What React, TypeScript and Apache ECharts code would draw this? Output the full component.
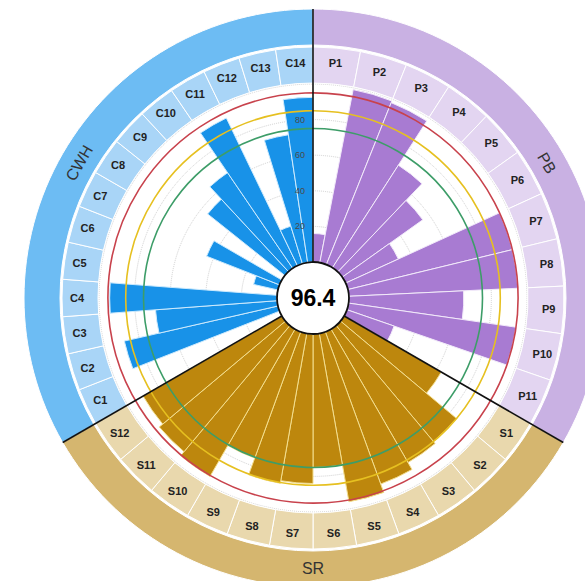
import React, { useEffect, useRef } from 'react';
import * as echarts from 'echarts';

const pbCategories = ['P1', 'P2', 'P3', 'P4', 'P5', 'P6', 'P7', 'P8', 'P9', 'P10', 'P11'];
const pbValues = [16, 99, 98, 68.5, 55.5, 32.5, 95, 95, 64.5, 95, 28];
const srCategories = ['S1', 'S2', 'S3', 'S4', 'S5', 'S6', 'S7', 'S8', 'S9', 'S10', 'S11', 'S12'];
const srValues = [63, 85, 86.5, 91, 96, 75, 84, 85.5, 75.5, 95.5, 92.5, 90];
const cwhCategories = ['C1', 'C2', 'C3', 'C4', 'C5', 'C6', 'C7', 'C8', 'C9', 'C10', 'C11', 'C12', 'C13', 'C14'];
const cwhValues = [0, 88.5, 68.5, 94, 0, 14, 44, 0, 55.5, 65, 92, 22, 72.5, 92.5];
const groupNames = ['PB', 'SR', 'CWH'];
const thresholds = [95, 85, 75];
const radiusTickLabels = [20, 40, 60, 80];
const centerValue = '96.4';

const CX = 313;
const CY = 298;
const R0 = 36;
const R1 = 214;
const RING_IN = 215;
const RING_OUT = 251;
const OUTER_IN = 253;
const OUTER_OUT = 289;
const FONT = 'Arial, "Liberation Sans", Helvetica, sans-serif';

const groups = [
  { name: groupNames[0], cats: pbCategories, values: pbValues, start: 90, end: -30,
    bar: '#a87bd2', sep: '#f2eafa', cell: '#e3d5f1', outer: '#c9b1e3' },
  { name: groupNames[1], cats: srCategories, values: srValues, start: -30, end: -150,
    bar: '#bd870d', sep: '#f3de8e', cell: '#e9d8ad', outer: '#d5b66f' },
  { name: groupNames[2], cats: cwhCategories, values: cwhValues, start: 210, end: 90,
    bar: '#1892e8', sep: '#cdeafd', cell: '#a9d5f7', outer: '#6dbcf3' },
];
const thresholdColors = ['#c8424c', '#e6c020', '#3d9d68'];

export default function App() {
  const ref = useRef<HTMLDivElement>(null);
  useEffect(() => {
    if (!ref.current) return;
    const chart = echarts.init(ref.current, undefined, { renderer: 'svg' });

    const polar: any[] = groups.map(() => ({ center: [CX, CY], radius: [R0, R1] }));
    polar.push({ center: [CX, CY], radius: [R0, R1] });

    const angleAxis: any[] = groups.map((g, i) => ({
      polarIndex: i,
      type: 'category',
      data: g.cats,
      startAngle: g.start,
      endAngle: g.end,
      clockwise: true,
      boundaryGap: true,
      axisLine: { show: false },
      axisTick: { show: false },
      axisLabel: { show: false },
      splitLine: { show: false },
    }));
    angleAxis.push({
      polarIndex: 3,
      type: 'category',
      data: pbCategories,
      startAngle: 90,
      clockwise: true,
      axisLine: { show: false },
      axisTick: { show: false },
      axisLabel: { show: false },
      splitLine: { show: false },
    });

    const radiusAxis: any[] = groups.map((g, i) => ({
      polarIndex: i,
      type: 'value',
      min: 0,
      max: 100,
      interval: 20,
      axisLine: { show: false },
      axisTick: { show: false },
      axisLabel: { show: false },
      splitLine: { show: true, lineStyle: { type: 'dotted', color: '#cfcfcf', width: 1 } },
    }));
    radiusAxis.push({
      polarIndex: 3,
      type: 'value',
      min: 0,
      max: 100,
      interval: 20,
      z: 50,
      axisLine: { show: false },
      axisTick: { show: false },
      splitLine: { show: false },
      axisLabel: {
        show: true,
        fontSize: 9,
        color: '#4a4a4a',
        fontFamily: FONT,
        formatter: (v: number) => (radiusTickLabels.indexOf(v) >= 0 ? String(v) : ''),
      },
    });

    const barSeries = groups.map((g, i) => ({
      type: 'bar',
      coordinateSystem: 'polar',
      polarIndex: i,
      data: g.values,
      barCategoryGap: '0%',
      silent: true,
      itemStyle: { color: g.bar, borderColor: g.sep, borderWidth: 1 },
      z: 2,
    }));

    const cellData: any[] = [];
    groups.forEach((g) => {
      g.cats.forEach((c) => {
        cellData.push({ name: c, value: 120 / g.cats.length, itemStyle: { color: g.cell } });
      });
    });

    const outerData = groups.map((g) => ({ name: g.name, value: 120, itemStyle: { color: g.outer } }));
    const outerLabelData = groups.map((g) => ({ name: g.name, value: 120 }));

    const lines = groups.map((g) => {
      const a = (g.start * Math.PI) / 180;
      return {
        type: 'line',
        z: 100,
        silent: true,
        shape: {
          x1: CX + R0 * Math.cos(a),
          y1: CY - R0 * Math.sin(a),
          x2: CX + OUTER_OUT * Math.cos(a),
          y2: CY - OUTER_OUT * Math.sin(a),
        },
        style: { stroke: '#111', lineWidth: 1.6 },
      };
    });

    chart.setOption({
      animation: false,
      polar,
      angleAxis,
      radiusAxis,
      series: [
        ...barSeries,
        {
          type: 'custom',
          coordinateSystem: 'polar',
          polarIndex: 0,
          silent: true,
          clip: false,
          z: 6,
          data: thresholds.map((t, k) => [t, 0, k]),
          renderItem: (params: any, api: any) => {
            const cs = params.coordSys;
            const p = api.coord([api.value(0), api.value(1)]);
            const r = Math.hypot(p[0] - cs.cx, p[1] - cs.cy);
            return {
              type: 'circle',
              shape: { cx: cs.cx, cy: cs.cy, r },
              style: { fill: 'none', stroke: thresholdColors[api.value(2)], lineWidth: 1.6 },
            };
          },
        },
        {
          type: 'pie',
          center: [CX, CY],
          radius: [RING_IN, RING_OUT],
          startAngle: 90,
          clockwise: true,
          silent: true,
          avoidLabelOverlap: false,
          emphasis: { disabled: true },
          itemStyle: { borderColor: '#ffffff', borderWidth: 1 },
          label: {
            show: true,
            position: 'inside',
            formatter: '{b}',
            fontSize: 11,
            fontWeight: 'bold',
            color: '#222',
            fontFamily: FONT,
          },
          labelLine: { show: false },
          data: cellData,
        },
        {
          type: 'pie',
          center: [CX, CY],
          radius: [OUTER_IN, OUTER_OUT],
          startAngle: 90,
          clockwise: true,
          silent: true,
          emphasis: { disabled: true },
          itemStyle: { borderColor: '#ffffff', borderWidth: 1 },
          label: { show: false },
          labelLine: { show: false },
          data: outerData,
        },
        {
          type: 'pie',
          center: [CX, CY],
          radius: [OUTER_IN, 281],
          startAngle: 90,
          clockwise: true,
          silent: true,
          avoidLabelOverlap: false,
          emphasis: { disabled: true },
          itemStyle: { color: 'rgba(0,0,0,0)', borderWidth: 0 },
          label: {
            show: true,
            position: 'inside',
            rotate: 'tangential',
            formatter: '{b}',
            fontSize: 16,
            color: '#333',
            fontFamily: FONT,
          },
          labelLine: { show: false },
          data: outerLabelData,
        },
      ],
      graphic: [
        ...lines,
        {
          type: 'circle',
          z: 101,
          silent: true,
          shape: { cx: CX, cy: CY, r: R0 },
          style: { fill: '#ffffff', stroke: '#111', lineWidth: 1.8 },
        },
        {
          type: 'text',
          z: 102,
          silent: true,
          x: CX,
          y: CY,
          style: {
            text: centerValue,
            fill: '#000',
            font: `bold 23px ${FONT}`,
            align: 'center',
            verticalAlign: 'middle',
          },
        },
      ],
    });
    return () => chart.dispose();
  }, []);
  return <div ref={ref} style={{ position: 'absolute', left: 0, top: 0, width: 585, height: 581 }} />;
}
